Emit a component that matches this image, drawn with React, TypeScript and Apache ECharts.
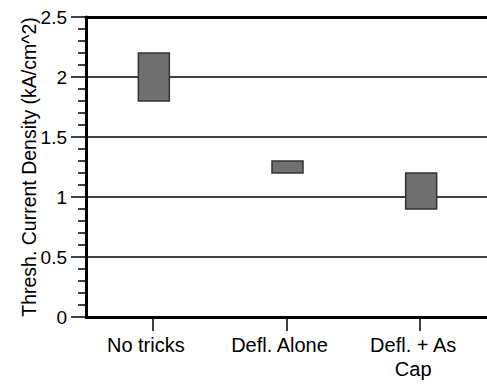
import React, { useEffect, useRef } from "react";
import * as echarts from "echarts";

const categories = ["No tricks", "Defl. Alone", "Defl. + As\nCap"];
const lowValues = [1.8, 1.2, 0.9];
const highValues = [2.2, 1.3, 1.2];
const yTicks = { min: 0, max: 2.5, interval: 0.5 };
const yName = "Thresh. Current Density (kA/cm^2)";

const FONT = "'Liberation Sans', Arial, Helvetica, sans-serif";

export default function App() {
  const ref = useRef<HTMLDivElement>(null);
  useEffect(() => {
    if (!ref.current) return;
    const chart = echarts.init(ref.current, null, { renderer: "svg" });
    const data = categories.map((c, i) => [i, lowValues[i], highValues[i]]);
    chart.setOption({
      animation: false,
      backgroundColor: "#ffffff",
      grid: { left: 86, top: 17, width: 405, height: 300, containLabel: false },
      xAxis: [
        {
          type: "category",
          data: categories,
          position: "bottom",
          axisLine: { show: true, lineStyle: { color: "#000", width: 3 } },
          axisTick: { show: true, length: 14, alignWithLabel: true, lineStyle: { color: "#000", width: 1.5 } },
          axisLabel: {
            color: "#000",
            fontSize: 20,
            fontFamily: FONT,
            margin: 16,
            lineHeight: 24,
            padding: [0, 14, 0, 0],
            interval: 0,
          },
          splitLine: { show: false },
        },
        {
          type: "category",
          data: categories,
          position: "top",
          axisLine: { show: true, lineStyle: { color: "#000", width: 3 } },
          axisTick: { show: false },
          axisLabel: { show: false },
          splitLine: { show: false },
        },
      ],
      yAxis: {
        type: "value",
        min: yTicks.min,
        max: yTicks.max,
        interval: yTicks.interval,
        name: yName,
        nameLocation: "middle",
        nameGap: 47,
        nameMoveOverlap: false,
        nameTextStyle: { color: "#000", fontSize: 19.5, fontFamily: FONT },
        axisLine: { show: true, lineStyle: { color: "#000", width: 3 } },
        axisTick: { show: true, length: 15, lineStyle: { color: "#000", width: 1.5 } },
        minorTick: { show: true, splitNumber: 5, length: 8, lineStyle: { color: "#000", width: 1.5 } },
        axisLabel: { color: "#000", fontSize: 19, fontFamily: FONT, margin: 19 },
        splitLine: { show: true, lineStyle: { color: "#000", width: 1.5 } },
      },
      series: [
        {
          type: "custom",
          data,
          encode: { x: 0, y: [1, 2] },
          z: 10,
          renderItem: (params: any, api: any) => {
            const i = api.value(0);
            const lo = api.coord([i, api.value(1)]);
            const hi = api.coord([i, api.value(2)]);
            const w = 31;
            return {
              type: "rect",
              shape: { x: lo[0] - w / 2 + 1, y: hi[1], width: w, height: lo[1] - hi[1] },
              style: { fill: "#707070", stroke: "#333333", lineWidth: 1.5 },
            };
          },
        },
      ],
    });
    return () => chart.dispose();
  }, []);
  return (
    <div
      ref={ref}
      style={{ position: "absolute", left: 0, top: 0, width: 487, height: 385, background: "#fff" }}
    />
  );
}
